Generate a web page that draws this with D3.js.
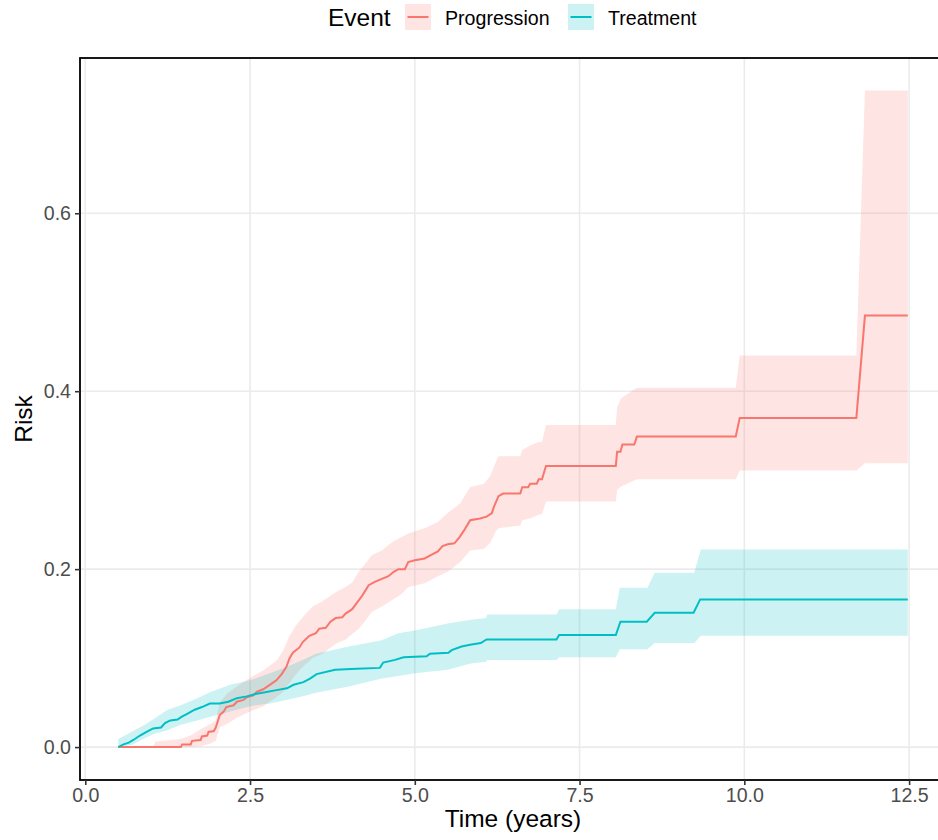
<!DOCTYPE html>
<html>
<head>
<meta charset="utf-8">
<script src="https://cdn.jsdelivr.net/npm/d3@7"></script>
<style>
  body { margin: 0; background: #fff; }
  svg { font-family: "Liberation Sans", Arial, Helvetica, sans-serif; }
</style>
</head>
<body>
<div id="chart"></div>
<script>
// cumulative risk curves
var seriesNames = ["Progression", "Treatment"];
var seriesColors = ["#F8766D", "#00BFC4"];

var progTime = [0.5, 1.45, 1.47, 1.6, 1.62, 1.75, 1.77, 1.85, 1.87, 1.95, 1.98, 2.04, 2.1, 2.14, 2.25, 2.3, 2.4, 2.45, 2.55, 2.6, 2.7, 2.8, 2.9, 2.98, 3.05, 3.1, 3.15, 3.25, 3.3, 3.4, 3.5, 3.55, 3.65, 3.72, 3.8, 3.9, 3.95, 4.05, 4.12, 4.2, 4.3, 4.4, 4.5, 4.6, 4.68, 4.75, 4.85, 4.9, 5.0, 5.15, 5.25, 5.35, 5.42, 5.5, 5.6, 5.68, 5.76, 5.84, 5.99, 6.09, 6.17, 6.2, 6.27, 6.34, 6.6, 6.63, 6.72, 6.75, 6.85, 6.88, 6.93, 6.99, 8.05, 8.07, 8.12, 8.15, 8.33, 8.37, 9.87, 9.93, 11.7, 11.83, 12.48];
var progRisk = [0, 0, 0.003, 0.003, 0.007, 0.008, 0.012, 0.013, 0.017, 0.018, 0.022, 0.036, 0.04, 0.045, 0.047, 0.051, 0.053, 0.056, 0.058, 0.062, 0.065, 0.07, 0.075, 0.082, 0.09, 0.1, 0.106, 0.112, 0.118, 0.125, 0.128, 0.133, 0.134, 0.141, 0.145, 0.146, 0.15, 0.155, 0.162, 0.17, 0.182, 0.186, 0.189, 0.192, 0.197, 0.2, 0.2, 0.208, 0.21, 0.212, 0.216, 0.22, 0.226, 0.228, 0.229, 0.236, 0.245, 0.255, 0.257, 0.259, 0.263, 0.27, 0.282, 0.285, 0.285, 0.292, 0.292, 0.296, 0.296, 0.301, 0.301, 0.316, 0.316, 0.332, 0.332, 0.34, 0.34, 0.349, 0.349, 0.37, 0.37, 0.485, 0.485];

var progBandTime = [0.5, 1.04, 1.06, 1.45, 1.6, 1.75, 1.9, 1.98, 2.04, 2.15, 2.3, 2.5, 2.7, 2.9, 3.0, 3.1, 3.2, 3.3, 3.45, 3.6, 3.8, 3.95, 4.05, 4.15, 4.25, 4.35, 4.5, 4.65, 4.8, 4.9, 5.15, 5.35, 5.5, 5.69, 5.84, 6.05, 6.14, 6.24, 6.27, 6.6, 6.63, 6.75, 6.88, 6.93, 6.99, 8.05, 8.07, 8.13, 8.37, 9.87, 9.93, 11.7, 11.83, 12.48];
var progLower = [0, 0, 0, 0, 0, 0.001, 0.004, 0.007, 0.022, 0.026, 0.033, 0.04, 0.046, 0.056, 0.062, 0.072, 0.082, 0.09, 0.1, 0.105, 0.116, 0.121, 0.127, 0.133, 0.142, 0.152, 0.158, 0.165, 0.172, 0.18, 0.184, 0.192, 0.197, 0.208, 0.221, 0.223, 0.229, 0.244, 0.246, 0.249, 0.255, 0.257, 0.261, 0.262, 0.276, 0.276, 0.289, 0.293, 0.301, 0.301, 0.311, 0.311, 0.319, 0.319];
var progUpper = [0, 0, 0.006, 0.009, 0.013, 0.02, 0.026, 0.03, 0.05, 0.06, 0.068, 0.078, 0.086, 0.097, 0.108, 0.125, 0.137, 0.146, 0.158, 0.164, 0.174, 0.18, 0.185, 0.197, 0.206, 0.216, 0.221, 0.23, 0.236, 0.24, 0.246, 0.253, 0.263, 0.274, 0.292, 0.296, 0.304, 0.322, 0.327, 0.327, 0.334, 0.339, 0.343, 0.343, 0.362, 0.362, 0.382, 0.392, 0.404, 0.404, 0.44, 0.44, 0.738, 0.738];

var treatTime = [0.5, 0.58, 0.66, 0.73, 0.83, 0.93, 1.03, 1.15, 1.21, 1.29, 1.4, 1.46, 1.56, 1.66, 1.77, 1.89, 2.04, 2.17, 2.3, 2.45, 2.6, 2.75, 2.9, 3.06, 3.16, 3.31, 3.41, 3.51, 3.79, 4.12, 4.47, 4.52, 4.7, 4.83, 5.18, 5.23, 5.51, 5.56, 5.71, 5.84, 6.0, 6.09, 7.15, 7.19, 8.05, 8.12, 8.52, 8.64, 9.23, 9.33, 12.48];
var treatRisk = [0, 0.003, 0.005, 0.008, 0.013, 0.017, 0.021, 0.022, 0.027, 0.03, 0.031, 0.034, 0.038, 0.042, 0.045, 0.049, 0.049, 0.051, 0.055, 0.057, 0.06, 0.062, 0.064, 0.066, 0.07, 0.073, 0.077, 0.082, 0.087, 0.088, 0.089, 0.095, 0.098, 0.101, 0.102, 0.105, 0.106, 0.109, 0.113, 0.115, 0.117, 0.121, 0.121, 0.126, 0.126, 0.141, 0.141, 0.151, 0.151, 0.166, 0.166];

var treatBandTime = [0.5, 0.7, 0.9, 1.05, 1.25, 1.45, 1.7, 1.9, 2.2, 2.5, 2.8, 3.05, 3.3, 3.5, 4.0, 4.5, 4.75, 5.0, 5.25, 5.5, 5.85, 6.08, 6.1, 7.15, 7.19, 8.05, 8.11, 8.53, 8.64, 9.24, 9.34, 12.48];
var treatLower = [0, 0.002, 0.01, 0.015, 0.019, 0.025, 0.03, 0.034, 0.04, 0.046, 0.049, 0.053, 0.057, 0.061, 0.068, 0.077, 0.08, 0.083, 0.085, 0.087, 0.094, 0.096, 0.098, 0.098, 0.101, 0.101, 0.11, 0.11, 0.117, 0.117, 0.125, 0.125];
var treatUpper = [0.009, 0.017, 0.025, 0.032, 0.042, 0.047, 0.055, 0.062, 0.07, 0.075, 0.083, 0.09, 0.098, 0.105, 0.113, 0.12, 0.128, 0.131, 0.135, 0.139, 0.143, 0.145, 0.149, 0.149, 0.155, 0.155, 0.179, 0.179, 0.196, 0.196, 0.222, 0.222];

var xTicks = [0, 2.5, 5, 7.5, 10, 12.5];
var yTicks = [0, 0.2, 0.4, 0.6];

var width = 938, height = 840;
var panel = { left: 80, right: 946, top: 58, bottom: 780 };

var svg = d3.select("#chart").append("svg")
    .attr("width", width)
    .attr("height", height);

var x = d3.scaleLinear().domain([-0.08, 13.06]).range([panel.left, panel.right]);
var y = d3.scaleLinear().domain([-0.037, 0.7745]).range([panel.bottom, panel.top]);

// grid
svg.append("g").selectAll("line.gx")
    .data(xTicks).enter().append("line")
    .attr("x1", function(d) { return x(d); })
    .attr("x2", function(d) { return x(d); })
    .attr("y1", panel.top).attr("y2", panel.bottom)
    .attr("stroke", "#EBEBEB").attr("stroke-width", 1.6);

svg.append("g").selectAll("line.gy")
    .data(yTicks).enter().append("line")
    .attr("y1", function(d) { return y(d); })
    .attr("y2", function(d) { return y(d); })
    .attr("x1", panel.left).attr("x2", panel.right)
    .attr("stroke", "#EBEBEB").attr("stroke-width", 1.6);

function zip(ts, a, b) {
    return ts.map(function(t, i) { return { t: t, a: a[i], b: b ? b[i] : null }; });
}

var bands = [zip(progBandTime, progLower, progUpper), zip(treatBandTime, treatLower, treatUpper)];
var lines = [zip(progTime, progRisk), zip(treatTime, treatRisk)];

var area = d3.area()
    .x(function(d) { return x(d.t); })
    .y0(function(d) { return y(d.a); })
    .y1(function(d) { return y(d.b); });

var line = d3.line()
    .x(function(d) { return x(d.t); })
    .y(function(d) { return y(d.a); });

bands.forEach(function(b, i) {
    svg.append("path").datum(b)
        .attr("d", area)
        .attr("fill", seriesColors[i])
        .attr("fill-opacity", 0.2);
});

lines.forEach(function(l, i) {
    svg.append("path").datum(l)
        .attr("d", line)
        .attr("fill", "none")
        .attr("stroke", seriesColors[i])
        .attr("stroke-width", 2);
});

// panel border
svg.append("rect")
    .attr("x", panel.left).attr("y", panel.top)
    .attr("width", panel.right - panel.left)
    .attr("height", panel.bottom - panel.top)
    .attr("fill", "none").attr("stroke", "#000").attr("stroke-width", 1.8);

// axes
var xAxis = svg.append("g")
    .attr("transform", "translate(0," + panel.bottom + ")")
    .call(d3.axisBottom(x).tickValues(xTicks).tickFormat(d3.format(".1f")).tickSize(5).tickPadding(3));
var yAxis = svg.append("g")
    .attr("transform", "translate(" + panel.left + ",0)")
    .call(d3.axisLeft(y).tickValues(yTicks).tickFormat(d3.format(".1f")).tickSize(5).tickPadding(4));

[xAxis, yAxis].forEach(function(g) {
    g.select(".domain").remove();
    g.selectAll(".tick line").attr("stroke", "#333").attr("stroke-width", 1.6);
    g.selectAll(".tick text").attr("fill", "#4D4D4D")
        .style("font-size", "19.6px")
        .style("font-family", "'Liberation Sans', Arial, sans-serif");
});

svg.append("text")
    .attr("x", (panel.left + panel.right) / 2)
    .attr("y", 827)
    .attr("text-anchor", "middle")
    .style("font-size", "24.5px")
    .text("Time (years)");

svg.append("text")
    .attr("transform", "translate(32," + ((panel.top + panel.bottom) / 2) + ") rotate(-90)")
    .attr("text-anchor", "middle")
    .style("font-size", "24.5px")
    .text("Risk");

// legend
var legend = svg.append("g");
legend.append("text")
    .attr("x", 328).attr("y", 26)
    .style("font-size", "24.5px")
    .text("Event");

var keyX = [405, 568];
seriesNames.forEach(function(name, i) {
    var k = legend.append("g").attr("transform", "translate(" + keyX[i] + ",4)");
    k.append("rect")
        .attr("width", 26).attr("height", 26)
        .attr("fill", seriesColors[i]).attr("fill-opacity", 0.2);
    k.append("line")
        .attr("x1", 2.5).attr("x2", 23.5)
        .attr("y1", 13).attr("y2", 13)
        .attr("stroke", seriesColors[i]).attr("stroke-width", 2);
    k.append("text")
        .attr("x", 40).attr("y", 20.5)
        .style("font-size", "19.6px")
        .text(name);
});
</script>
</body>
</html>
